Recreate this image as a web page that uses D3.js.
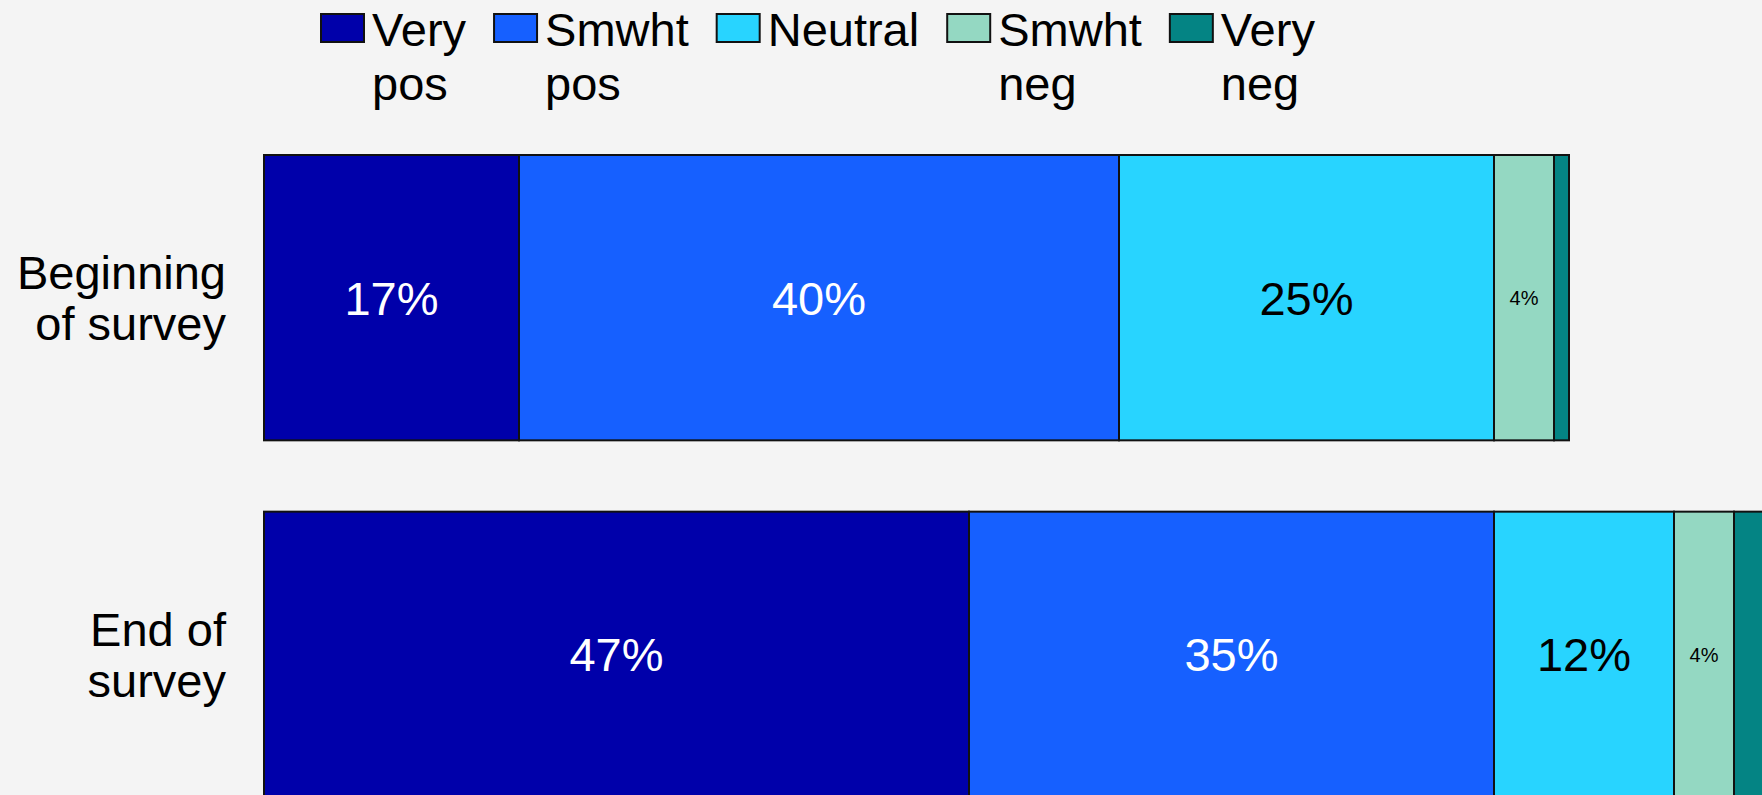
<!DOCTYPE html>
<html>
<head>
<meta charset="utf-8">
<script src="https://cdn.jsdelivr.net/npm/d3@7"></script>
<style>
	html, body { margin: 0; padding: 0; background: #f4f4f4; overflow: hidden; }
	text { font-family: "Liberation Sans", Arial, sans-serif; }
</style>
</head>
<body>
<div class="chart"></div>
<script>
// data
const categories = ['Beginning of survey', 'End of survey'];
const categoryLines = [['Beginning', 'of survey'], ['End of', 'survey']];
const seriesKeys = ['veryPos', 'smwhtPos', 'neutral', 'smwhtNeg', 'veryNeg'];
const seriesNames = [['Very', 'pos'], ['Smwht', 'pos'], ['Neutral'], ['Smwht', 'neg'], ['Very', 'neg']];
const veryPos = [17, 47];
const smwhtPos = [40, 35];
const neutral = [25, 12];
const smwhtNeg = [4, 4];
const veryNeg = [1, 2];

const colors = ['#0000aa', '#1660ff', '#28d4ff', '#94d8c2', '#048484'];
const labelColors = ['#ffffff', '#ffffff', '#000000', '#000000', '#000000'];

let width = 1762;
let height = 795;

let svg = d3.select('.chart').append('svg')
	.attr('width', width)
	.attr('height', height);

// build rows for the stack
let rows = categories.map((c, i) => {
	return {
		cat: c,
		veryPos: veryPos[i],
		smwhtPos: smwhtPos[i],
		neutral: neutral[i],
		smwhtNeg: smwhtNeg[i],
		veryNeg: veryNeg[i]
	};
});

let stack = d3.stack().keys(seriesKeys)(rows);

let x = d3.scaleLinear()
	.domain([0, 100])
	.range([264, 1764]);

let y = d3.scaleBand()
	.domain(categories)
	.range([155, 797])
	.paddingInner(0.2)
	.paddingOuter(0);

let layers = svg.append('g')
	.selectAll('g')
	.data(stack)
	.enter().append('g')
	.attr('fill', (d, i) => colors[i]);

layers.selectAll('rect')
	.data(d => d)
	.enter().append('rect')
	.attr('x', d => x(d[0]))
	.attr('y', d => y(d.data.cat))
	.attr('width', d => x(d[1]) - x(d[0]))
	.attr('height', y.bandwidth())
	.attr('stroke', '#111')
	.attr('stroke-width', 2);

// value labels, small font for single digit values, none under 4
layers.each(function (layer, li) {
	d3.select(this).selectAll('text')
		.data(layer.filter(d => d[1] - d[0] >= 4))
		.enter().append('text')
		.attr('x', d => (x(d[0]) + x(d[1])) / 2)
		.attr('y', d => y(d.data.cat) + y.bandwidth() / 2)
		.attr('dy', '0.36em')
		.attr('text-anchor', 'middle')
		.attr('fill', labelColors[li])
		.style('font-size', d => (d[1] - d[0] < 10 ? '20px' : '47px'))
		.text(d => Math.round(d[1] - d[0]) + '%');
});

// category labels on the left
let catLabels = svg.append('g')
	.selectAll('text')
	.data(categories)
	.enter().append('text')
	.attr('text-anchor', 'end')
	.attr('x', 226)
	.attr('y', d => y(d) + y.bandwidth() / 2)
	.style('font-size', '47px')
	.attr('fill', '#000');

catLabels.selectAll('tspan')
	.data((d, i) => categoryLines[i].map((t, k, a) => ({ t: t, k: k, n: a.length })))
	.enter().append('tspan')
	.attr('x', 226)
	.attr('dy', d => (d.k == 0 ? (-(d.n - 1) * 0.545 + 0.36) + 'em' : '1.09em'))
	.text(d => d.t);

// legend, laid out left to right
let legend = svg.append('g').attr('class', 'legend');
let lx = 321;
for (let i = 0; i < seriesKeys.length; i++) {
	let item = legend.append('g');
	item.append('rect')
		.attr('x', lx)
		.attr('y', 14)
		.attr('width', 43)
		.attr('height', 28)
		.attr('fill', colors[i])
		.attr('stroke', '#111')
		.attr('stroke-width', 2);
	let txt = item.append('text')
		.attr('x', lx + 51)
		.attr('y', 46)
		.style('font-size', '47px')
		.attr('fill', '#000');
	seriesNames[i].forEach((t, k) => {
		txt.append('tspan')
			.attr('x', lx + 51)
			.attr('dy', k == 0 ? 0 : 54)
			.text(t);
	});
	let first = txt.select('tspan').node().getComputedTextLength();
	lx += 51 + first + 28;
}
</script>
</body>
</html>
